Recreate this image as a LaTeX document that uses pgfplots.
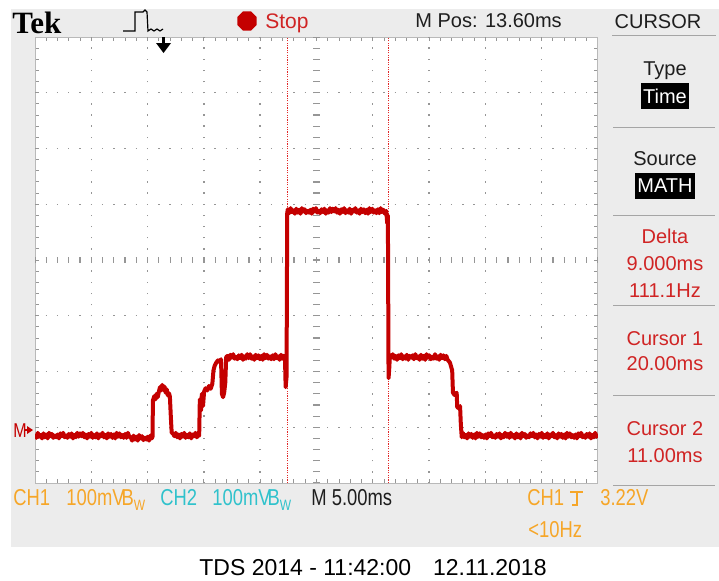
\documentclass[border=0pt]{standalone}
\usepackage{fontspec}
\setmainfont{Liberation Sans}
\newfontfamily\tekfont{Liberation Serif}
\newfontfamily\condfont[FakeStretch=0.8]{Liberation Sans}
\usepackage{pgfplots}
\pgfplotsset{compat=1.18}
\usetikzlibrary{shapes.geometric}
\pgfdeclarelayer{background}
\pgfsetlayers{background,main}
\definecolor{bg}{RGB}{236,236,236}
\definecolor{trace}{RGB}{196,0,0}
\definecolor{txtred}{RGB}{208,36,36}
\definecolor{curred}{RGB}{225,40,40}
\definecolor{orng}{RGB}{246,166,40}
\definecolor{cyn}{RGB}{48,194,204}
\definecolor{dotgray}{RGB}{150,150,150}
\definecolor{framegray}{RGB}{185,185,185}
\definecolor{sepgray}{RGB}{165,165,165}
\definecolor{dark}{RGB}{30,30,30}
\newcommand{\fs}[1]{\fontsize{#1}{#1}\selectfont}
\begin{document}
\begin{tikzpicture}[x=0.5pt,y=0.5pt]
% ---- screen
\begin{axis}[
  name=scr,
  width=281.5pt, height=223pt, scale only axis,
  xmin=-11.4, xmax=38.6, ymin=-4, ymax=4,
  xtick={-11.4,-6.4,-1.4,3.6,8.6,13.6,18.6,23.6,28.6,33.6,38.6},
  ytick={-4,-3,-2,-1,0,1,2,3,4},
  minor x tick num=4, minor y tick num=4,
  xticklabels={}, yticklabels={},
  tick align=inside, xtick pos=both, ytick pos=both,
  major tick length=2pt, minor tick length=2pt,
  tick style={draw=dotgray, line width=0.5pt},
  axis line style={draw=framegray, line width=0.5pt},
  axis background/.style={fill=white},
]
\coordinate (BL) at (rel axis cs:0,0);
\pgfplotsinvokeforeach{-6.4,-1.4,3.6,8.6,18.6,23.6,28.6,33.6}{
  \draw[dotgray, line width=0.7pt, dash pattern=on 0.7pt off 4.875pt, dash phase=0.35pt] (axis cs:#1,-4) -- (axis cs:#1,4);
}
\pgfplotsinvokeforeach{-3,-2,-1,1,2,3}{
  \draw[dotgray, line width=0.7pt, dash pattern=on 0.7pt off 4.93pt, dash phase=0.35pt] (axis cs:-11.4,#1) -- (axis cs:38.6,#1);
}
\draw[dotgray, line width=3.5pt, dash pattern=on 0.6pt off 4.975pt, dash phase=0.3pt] (axis cs:13.6,-4) -- (axis cs:13.6,4);
\draw[dotgray, line width=3pt, dash pattern=on 0.6pt off 5.03pt, dash phase=0.3pt] (axis cs:-11.4,0) -- (axis cs:38.6,0);
% cursors
\addplot[curred, line width=0.65pt, dash pattern=on 0.65pt off 0.55pt] coordinates {(11,-4) (11,4)};
\addplot[curred, line width=0.65pt, dash pattern=on 0.65pt off 0.55pt] coordinates {(20,-4) (20,4)};
% MATH trace
\addplot[trace, line width=2pt, line join=round] coordinates {
(-11.400,-3.12) (-11.275,-3.19) (-11.150,-3.10) (-11.025,-3.17) (-10.900,-3.14) (-10.775,-3.20) (-10.650,-3.11) (-10.525,-3.18) (-10.400,-3.13) (-10.275,-3.20) (-10.150,-3.10) (-10.025,-3.16) (-9.900,-3.12) (-9.775,-3.19) (-9.650,-3.15) (-9.525,-3.18)
(-9.400,-3.13) (-9.275,-3.20) (-9.150,-3.11) (-9.025,-3.16) (-8.900,-3.10) (-8.775,-3.18) (-8.650,-3.15) (-8.525,-3.19) (-8.400,-3.12) (-8.275,-3.17) (-8.150,-3.11) (-8.025,-3.20) (-7.900,-3.14) (-7.775,-3.18) (-7.650,-3.10) (-7.525,-3.17)
(-7.400,-3.11) (-7.275,-3.16) (-7.150,-3.10) (-7.025,-3.18) (-6.900,-3.13) (-6.775,-3.20) (-6.650,-3.12) (-6.525,-3.17) (-6.400,-3.10) (-6.275,-3.19) (-6.150,-3.14) (-6.025,-3.18) (-5.900,-3.11) (-5.775,-3.20) (-5.650,-3.13) (-5.525,-3.16)
(-5.400,-3.10) (-5.275,-3.18) (-5.150,-3.14) (-5.025,-3.20) (-4.900,-3.11) (-4.775,-3.17) (-4.650,-3.12) (-4.525,-3.19) (-4.400,-3.13) (-4.275,-3.20) (-4.150,-3.10) (-4.025,-3.17) (-3.900,-3.11) (-3.775,-3.18) (-3.650,-3.14) (-3.525,-3.19)
(-3.400,-3.12) (-3.275,-3.19) (-3.150,-3.10) (-3.025,-3.17) (-2.900,-3.18) (-2.775,-3.24) (-2.650,-3.15) (-2.525,-3.22) (-2.400,-3.17) (-2.275,-3.24) (-2.150,-3.14) (-2.025,-3.20) (-1.900,-3.16) (-1.775,-3.23) (-1.650,-3.19) (-1.525,-3.22)
(-1.400,-3.17) (-1.275,-3.24) (-1.150,-3.15) (-1.025,-3.20) (-0.96,-3.17)
(-0.93,-2.52) (-0.80,-2.44) (-0.70,-2.50) (-0.60,-2.40) (-0.50,-2.46) (-0.40,-2.36) (-0.30,-2.28) (-0.20,-2.34) (-0.10,-2.24) (0.00,-2.33) (0.10,-2.27) (0.20,-2.38) (0.30,-2.32) (0.40,-2.43) (0.50,-2.39) (0.58,-2.45) (0.66,-2.80) (0.74,-3.10)
(0.850,-3.11) (0.975,-3.16) (1.100,-3.10) (1.225,-3.18) (1.350,-3.13) (1.475,-3.20) (1.600,-3.12) (1.725,-3.17) (1.850,-3.10) (1.975,-3.19) (2.100,-3.14) (2.225,-3.18) (2.350,-3.11) (2.475,-3.20) (2.600,-3.13) (2.725,-3.16) (2.850,-3.10) (2.975,-3.18) (3.100,-3.14) (3.18,-3.15)
(3.24,-2.50) (3.34,-2.70) (3.42,-2.40) (3.52,-2.62) (3.62,-2.36) (3.75,-2.30) (3.90,-2.34) (4.05,-2.26) (4.20,-2.31) (4.35,-2.22) (4.45,-1.98) (4.55,-1.90) (4.70,-1.84) (4.85,-1.80) (5.00,-1.83) (5.12,-1.78) (5.20,-2.40) (5.30,-2.46) (5.40,-2.38) (5.50,-2.20) (5.58,-1.74)
(5.700,-1.72) (5.825,-1.79) (5.950,-1.70) (6.075,-1.75) (6.200,-1.69) (6.325,-1.77) (6.450,-1.74) (6.575,-1.78) (6.700,-1.71) (6.825,-1.76) (6.950,-1.70) (7.075,-1.79) (7.200,-1.73) (7.325,-1.77) (7.450,-1.69) (7.575,-1.76)
(7.700,-1.69) (7.825,-1.77) (7.950,-1.73) (8.075,-1.79) (8.200,-1.70) (8.325,-1.76) (8.450,-1.71) (8.575,-1.78) (8.700,-1.72) (8.825,-1.79) (8.950,-1.69) (9.075,-1.76) (9.200,-1.70) (9.325,-1.77) (9.450,-1.73) (9.575,-1.78)
(9.700,-1.71) (9.825,-1.78) (9.950,-1.69) (10.075,-1.76) (10.200,-1.73) (10.325,-1.79) (10.450,-1.70) (10.575,-1.77) (10.700,-1.72)
(10.80,-1.74) (10.86,-2.28) (10.94,-2.10) (11.00,0.84)
(11.050,0.91) (11.175,0.84) (11.300,0.93) (11.425,0.86) (11.550,0.89) (11.675,0.83) (11.800,0.92) (11.925,0.85) (12.050,0.90) (12.175,0.83) (12.300,0.93) (12.425,0.87) (12.550,0.91) (12.675,0.84) (12.800,0.88) (12.925,0.85)
(13.050,0.90) (13.175,0.83) (13.300,0.92) (13.425,0.87) (13.550,0.93) (13.675,0.85) (13.800,0.88) (13.925,0.84) (14.050,0.91) (14.175,0.86) (14.300,0.92) (14.425,0.83) (14.550,0.89) (14.675,0.85) (14.800,0.93) (14.925,0.86)
(15.050,0.92) (15.175,0.87) (15.300,0.93) (15.425,0.85) (15.550,0.90) (15.675,0.83) (15.800,0.91) (15.925,0.86) (16.050,0.93) (16.175,0.84) (16.300,0.89) (16.425,0.85) (16.550,0.92) (16.675,0.83) (16.800,0.90) (16.925,0.87)
(17.050,0.93) (17.175,0.85) (17.300,0.89) (17.425,0.83) (17.550,0.92) (17.675,0.86) (17.800,0.91) (17.925,0.84) (18.050,0.90) (18.175,0.83) (18.300,0.93) (18.425,0.86) (18.550,0.92) (18.675,0.85) (18.800,0.89) (18.925,0.84)
(19.050,0.91) (19.175,0.84) (19.300,0.93) (19.425,0.86) (19.550,0.90) (19.675,0.83) (19.800,0.88)
(19.88,0.66) (19.94,0.80) (20.00,-2.12) (20.06,-1.95)
(20.125,-1.70) (20.250,-1.75) (20.375,-1.69) (20.500,-1.77) (20.625,-1.72) (20.750,-1.79) (20.875,-1.71) (21.000,-1.76) (21.125,-1.69) (21.250,-1.78) (21.375,-1.73) (21.500,-1.77) (21.625,-1.70) (21.750,-1.79) (21.875,-1.72) (22.000,-1.75)
(22.125,-1.71) (22.250,-1.78) (22.375,-1.69) (22.500,-1.76) (22.625,-1.73) (22.750,-1.79) (22.875,-1.70) (23.000,-1.77) (23.125,-1.72) (23.250,-1.79) (23.375,-1.69) (23.500,-1.75) (23.625,-1.71) (23.750,-1.78) (23.875,-1.74) (24.000,-1.77)
(24.125,-1.69) (24.250,-1.77) (24.375,-1.73) (24.500,-1.79) (24.625,-1.70) (24.750,-1.76) (24.875,-1.71) (25.000,-1.78) (25.125,-1.72) (25.250,-1.79)
(25.45,-1.84) (25.65,-1.98) (25.72,-2.38) (25.85,-2.42) (26.05,-2.38) (26.10,-2.64) (26.25,-2.66) (26.35,-2.62) (26.42,-2.95) (26.50,-3.18)
(26.600,-3.10) (26.725,-3.18) (26.850,-3.14) (26.975,-3.20) (27.100,-3.11) (27.225,-3.17) (27.350,-3.12) (27.475,-3.19) (27.600,-3.13) (27.725,-3.20) (27.850,-3.10) (27.975,-3.17) (28.100,-3.11) (28.225,-3.18) (28.350,-3.14) (28.475,-3.19)
(28.600,-3.13) (28.725,-3.20) (28.850,-3.11) (28.975,-3.16) (29.100,-3.10) (29.225,-3.18) (29.350,-3.15) (29.475,-3.19) (29.600,-3.12) (29.725,-3.17) (29.850,-3.11) (29.975,-3.20) (30.100,-3.14) (30.225,-3.18) (30.350,-3.10) (30.475,-3.17)
(30.600,-3.12) (30.725,-3.19) (30.850,-3.10) (30.975,-3.17) (31.100,-3.14) (31.225,-3.20) (31.350,-3.11) (31.475,-3.18) (31.600,-3.13) (31.725,-3.20) (31.850,-3.10) (31.975,-3.16) (32.100,-3.12) (32.225,-3.19) (32.350,-3.15) (32.475,-3.18)
(32.600,-3.11) (32.725,-3.16) (32.850,-3.10) (32.975,-3.18) (33.100,-3.13) (33.225,-3.20) (33.350,-3.12) (33.475,-3.17) (33.600,-3.10) (33.725,-3.19) (33.850,-3.14) (33.975,-3.18) (34.100,-3.11) (34.225,-3.20) (34.350,-3.13) (34.475,-3.16)
(34.600,-3.10) (34.725,-3.18) (34.850,-3.14) (34.975,-3.20) (35.100,-3.11) (35.225,-3.17) (35.350,-3.12) (35.475,-3.19) (35.600,-3.13) (35.725,-3.20) (35.850,-3.10) (35.975,-3.17) (36.100,-3.11) (36.225,-3.18) (36.350,-3.14) (36.475,-3.19)
(36.600,-3.13) (36.725,-3.20) (36.850,-3.11) (36.975,-3.16) (37.100,-3.10) (37.225,-3.18) (37.350,-3.15) (37.475,-3.19) (37.600,-3.12) (37.725,-3.17) (37.850,-3.11) (37.975,-3.20) (38.100,-3.14) (38.225,-3.18) (38.350,-3.10) (38.475,-3.17)
(38.600,-3.12)
};
\end{axis}
% ---- everything else, in image pixels (origin at the picture's lower left)
\begin{scope}[shift={(BL)}, shift={(-35,-97)}]
\begin{pgfonlayer}{background}
\fill[white] (0,0) rectangle (719,580);
\fill[bg] (11,33) rectangle (719,571);
\end{pgfonlayer}
% top bar
\node[anchor=base west, inner sep=0, font=\tekfont\bfseries\fs{15.5}] at (12,547) {Tek};
\draw[black, line width=0.6pt] (123,549)--(135,549)--(135,568)--(143,568)--(145,570)--(147,568)--(148,549)--(151,551)--(154,549)--(157,551)--(160,549)--(163,551);
\node[regular polygon, regular polygon sides=8, fill=trace, minimum size=10.5pt, inner sep=0] at (247,559) {};
\node[anchor=base west, inner sep=0, text=txtred, font=\fs{10.5}] at (265,552) {Stop};
\node[anchor=base west, inner sep=0, text=dark, font=\fs{10}] at (415,553) {M Pos: 13.60ms};
\node[anchor=base, inner sep=0, text=dark, font=\fs{10}] at (658,552) {CURSOR};
\draw[sepgray, line width=0.5pt] (612,545) -- (716,545);
% side panel
\foreach \yy in {453,365,275,185,95} {\draw[sepgray, line width=0.5pt] (613,\yy) -- (715,\yy);}
\node[anchor=base, inner sep=0, text=dark, font=\fs{10}] at (665,505) {Type};
\node[fill=black, text=white, font=\fs{10}, inner xsep=1.3pt, inner ysep=0pt, minimum height=13pt] at (665,484) {Time};
\node[anchor=base, inner sep=0, text=dark, font=\fs{10}] at (665,415) {Source};
\node[fill=black, text=white, font=\fs{10}, inner xsep=1.3pt, inner ysep=0pt, minimum height=13pt] at (665,394) {MATH};
\node[anchor=base, inner sep=0, text=txtred, font=\fs{10}] at (665,337) {Delta};
\node[anchor=base, inner sep=0, text=txtred, font=\fs{10}] at (665,310) {9.000ms};
\node[anchor=base, inner sep=0, text=txtred, font=\fs{10}] at (665,283) {111.1Hz};
\node[anchor=base, inner sep=0, text=txtred, font=\fs{10}] at (665,235) {Cursor 1};
\node[anchor=base, inner sep=0, text=txtred, font=\fs{10}] at (665,210) {20.00ms};
\node[anchor=base, inner sep=0, text=txtred, font=\fs{10}] at (665,145) {Cursor 2};
\node[anchor=base, inner sep=0, text=txtred, font=\fs{10}] at (665,118) {11.00ms};
% bottom bar
\node[anchor=base west, inner sep=0, text=orng, font=\condfont\fs{11.5}] at (13,75) {CH1};
\node[anchor=base west, inner sep=0, text=orng, font=\condfont\fs{11.5}] at (66,75) {100mV\kern-1.5pt B\raisebox{-2.5pt}{\fs{7.5}W}};
\node[anchor=base west, inner sep=0, text=cyn, font=\condfont\fs{11.5}] at (160,75) {CH2};
\node[anchor=base west, inner sep=0, text=cyn, font=\condfont\fs{11.5}] at (212,75) {100mV\kern-1.5pt B\raisebox{-2.5pt}{\fs{7.5}W}};
\node[anchor=base west, inner sep=0, text=dark, font=\condfont\fs{11.5}] at (311,75) {M 5.00ms};
\node[anchor=base west, inner sep=0, text=orng, font=\condfont\fs{11.5}] at (527,75) {CH1};
\draw[orng, line width=0.8pt] (570,88)--(583,88) (577,88)--(577,75)--(572,75);
\node[anchor=base west, inner sep=0, text=orng, font=\condfont\fs{11.5}] at (600,75) {3.22V};
\node[anchor=base west, inner sep=0, text=orng, font=\condfont\fs{11.5}] at (528,43) {<10Hz};
\node[anchor=base, inner sep=0, text=black, font=\fs{11.5}] at (373,5) {TDS 2014 - 11:42:00\hspace{11pt}12.11.2018};
% trigger position arrow
\fill[black] (162,543) rectangle (165,536);
\fill[black] (156,537) -- (171,537) -- (163.5,527) -- cycle;
% MATH reference marker
\node[anchor=base west, inner sep=0, text=trace, font=\condfont\fs{10}] at (13,143) {M};
\draw[trace, line width=0.8pt] (24,150) -- (28,150);
\fill[trace] (27,154) -- (27,146) -- (33,150) -- cycle;
\end{scope}
\end{tikzpicture}
\end{document}
